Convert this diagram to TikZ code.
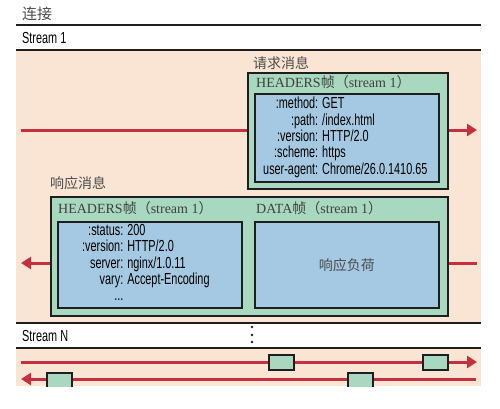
\documentclass[tikz,border=0pt]{standalone}
\usepackage{fontspec}
\setmainfont{Liberation Serif}
\newfontfamily\labfont[FakeStretch=0.68]{Liberation Sans}
\newfontfamily\cjk{Noto Sans CJK SC}
\usetikzlibrary{arrows.meta}
\definecolor{peach}{HTML}{FAE5D5}
\definecolor{frgreen}{HTML}{A8D8C0}
\definecolor{frblue}{HTML}{A5C9E2}
\definecolor{arred}{HTML}{C4303E}
\definecolor{edge}{HTML}{1E1E1E}
\tikzset{
  outerbox/.style={draw=edge, line width=1.8pt, fill=frgreen, inner sep=0pt, anchor=north west},
  innerbox/.style={draw=edge, line width=1.8pt, fill=frblue, inner sep=0pt, anchor=north west},
  smallbox/.style={draw=edge, line width=1.5pt, fill=frgreen, inner sep=0pt, anchor=north west, minimum width=25pt, minimum height=15pt},
  sepline/.style={draw=edge, line width=1.8pt},
  redline/.style={draw=arred, line width=3pt},
  redarrow/.style={redline, -{Triangle[length=10pt,width=12pt]}},
  titletext/.style={anchor=west, inner sep=0pt, font=\fontsize{14}{16}\selectfont, text=black!75},
  labtext/.style={anchor=west, inner sep=0pt, font=\labfont\fontsize{16}{18}\selectfont},
  cjktext/.style={anchor=west, inner sep=0pt, font=\cjk\fontsize{14}{16}\selectfont, text=black!70},
  tabtext/.style={inner sep=0pt, font=\labfont\fontsize{16}{16}\selectfont, align=left}
}
\begin{document}
\begin{tikzpicture}[x=1pt,y=-1pt]
\useasboundingbox (0,0) rectangle (500,408);
\fill[white] (0,0) rectangle (500,408);
% backgrounds
\fill[peach] (16,50) rectangle (481,322);
\fill[peach] (16,348) rectangle (481,386);
% separator lines
\draw[sepline] (16,25) -- (481,25);
\draw[sepline] (16,50) -- (481,50);
\draw[sepline] (16,323) -- (481,323);
\draw[sepline] (16,348) -- (481,348);
% labels
\node[cjktext, font=\cjk\fontsize{15}{17}\selectfont] (conn) at (22,14) {连接};
\node[labtext] (s1) at (22,38) {Stream 1};
\node[labtext] (sn) at (22,336) {Stream N};
\foreach \yy in {327,335,342} \fill[edge] (252,\yy) circle (1.3pt);
% request arrow
\coordinate (reqL) at (21,130);
\coordinate (reqR) at (477,130);
\draw[redarrow] (reqL) -- (reqR);
% request frame
\node[cjktext] (reqlab) at (253,63) {请求消息};
\node[outerbox, minimum width=200pt, minimum height=116pt] (req) at (247,72) {};
\node[titletext] (reqt) at (256,82) {HEADERS{\cjk 帧}{\cjk （}stream 1{\cjk ）}};
\node[innerbox, minimum width=184pt, minimum height=88pt] (reqin) at (254,93) {};
\node[tabtext, anchor=north west] (reqtab) at (263,97) {%
\begin{tabular}{@{}r@{\hspace{4pt}}l@{}}
:method: & GET\\
:path: & /index.html\\
:version: & HTTP/2.0\\
:scheme: & https\\
user-agent: & Chrome/26.0.1410.65
\end{tabular}};
% response arrow
\coordinate (resL) at (21,263);
\coordinate (resR) at (477,263);
\draw[redarrow] (resR) -- (resL);
% response frames
\node[cjktext] (reslab) at (50,183) {响应消息};
\node[outerbox, minimum width=397pt, minimum height=119pt] (res) at (50,196) {};
\node[titletext] (rest) at (58,208) {HEADERS{\cjk 帧}{\cjk （}stream 1{\cjk ）}};
\node[titletext] (datat) at (256,208) {DATA{\cjk 帧}{\cjk （}stream 1{\cjk ）}};
\node[innerbox, minimum width=184pt, minimum height=86pt] (resin) at (57,221) {};
\node[innerbox, minimum width=184pt, minimum height=86pt] (datain) at (254,221) {};
\node[tabtext, anchor=north west] (restab) at (82,224) {%
\begin{tabular}{@{}r@{\hspace{4pt}}l@{}}
:status: & 200\\
:version: & HTTP/2.0\\
server: & nginx/1.0.11\\
vary: & Accept-Encoding\\
... &
\end{tabular}};
\node[cjktext, anchor=center] (payload) at (datain.center) {响应负荷};
% stream N arrows
\coordinate (n1L) at (21,362);
\coordinate (n1R) at (477,362);
\coordinate (n2L) at (21,379);
\coordinate (n2R) at (476,379);
\draw[redarrow] (n1L) -- (n1R);
\draw[redarrow] (n2R) -- (n2L);
\begin{scope}
\clip (0,0) rectangle (500,386);
\node[smallbox] (f1) at (268,354) {};
\node[smallbox] (f2) at (422,354) {};
\node[smallbox] (f3) at (46,372) {};
\node[smallbox] (f4) at (347,372) {};
\end{scope}
\end{tikzpicture}
\end{document}
